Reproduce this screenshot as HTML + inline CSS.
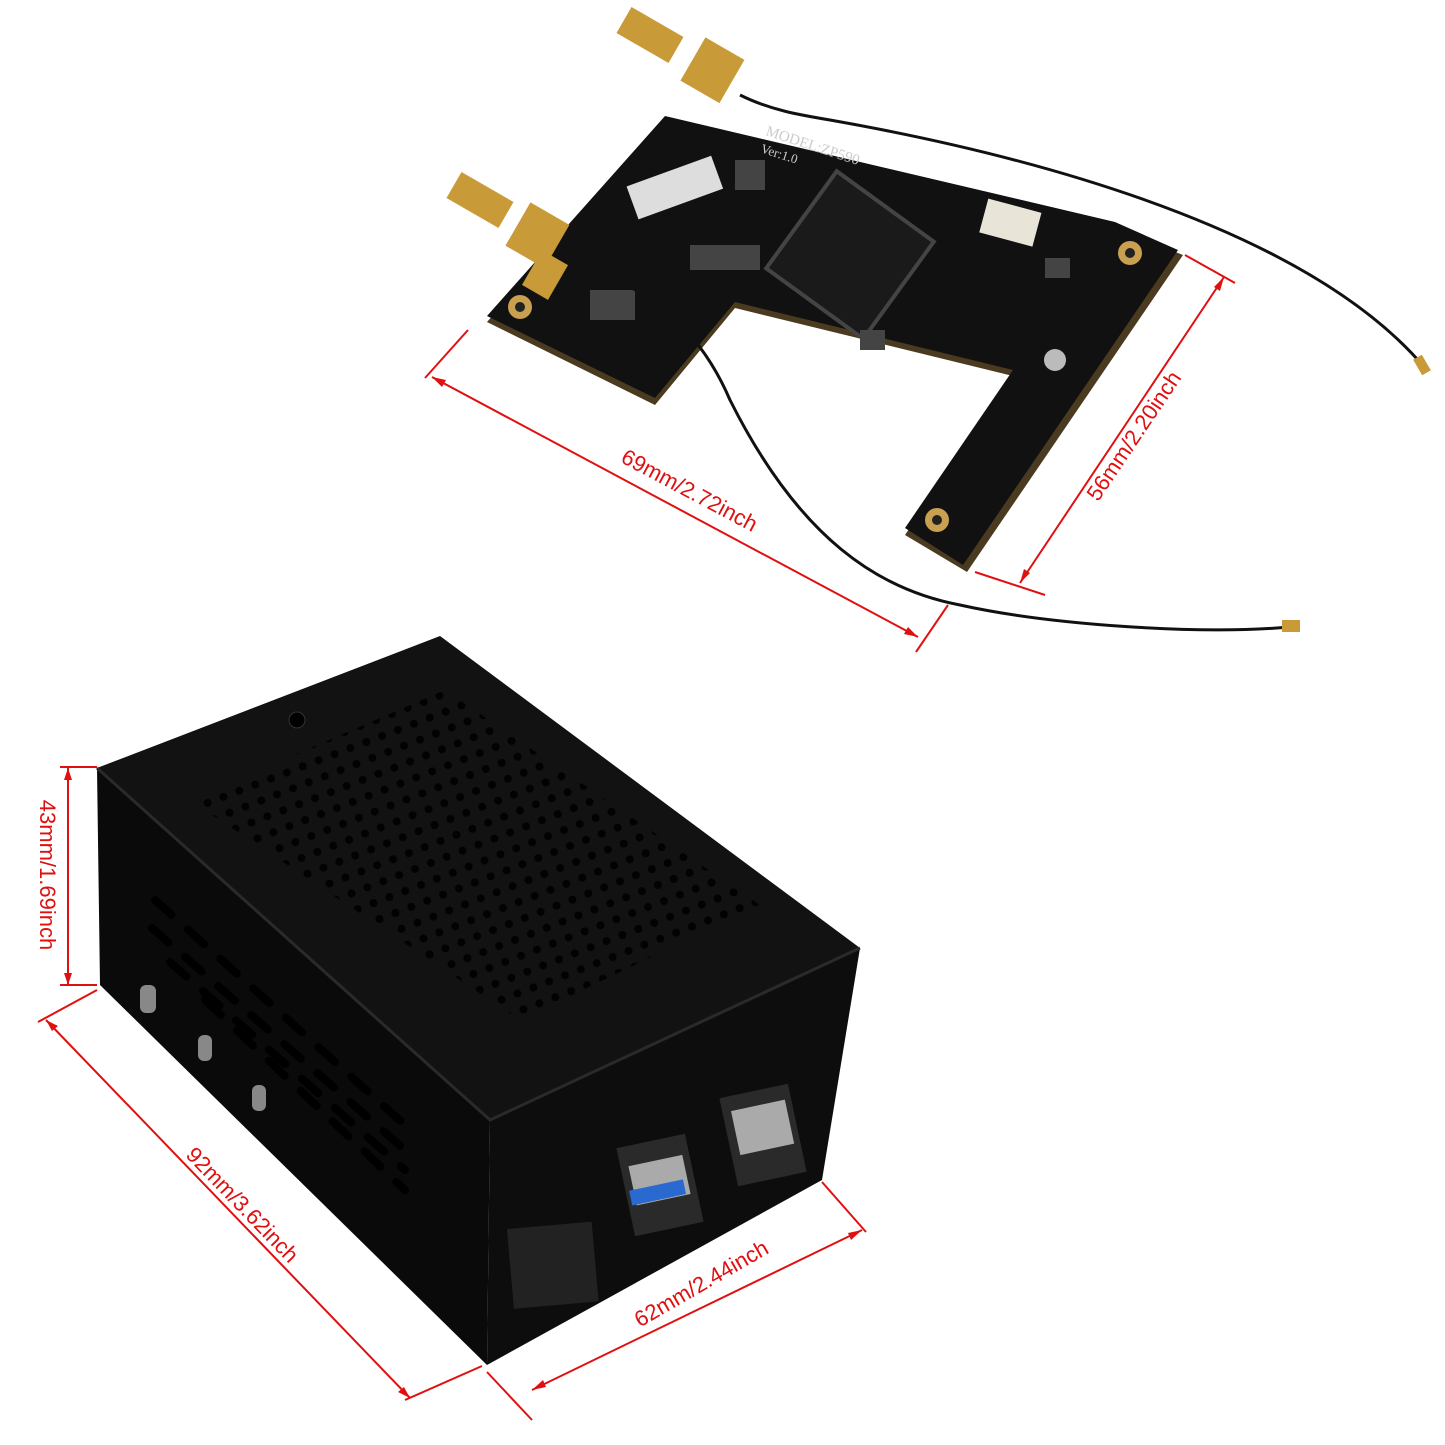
<!DOCTYPE html>
<html><head><meta charset="utf-8"><style>
html,body{margin:0;padding:0;background:#fff;}
svg{display:block;}
text{font-family:"Liberation Sans",sans-serif;font-size:22px;fill:#e01010;}
</style></head><body>
<svg width="1445" height="1445" viewBox="0 0 1445 1445" xmlns="http://www.w3.org/2000/svg">
<defs>
<pattern id="holes" width="17" height="17" patternUnits="userSpaceOnUse" patternTransform="rotate(-21)">
<circle cx="8" cy="8" r="4" fill="#000"/>
</pattern>
<clipPath id="topclip"><polygon points="190,800 445,690 760,905 520,1020"/></clipPath>
</defs>

<!-- PCB -->
<polygon points="487,322 665,122 1115,228 1183,255 967,572 905,535 1013,376 735,308 655,405" fill="#4a3a20"/>
<polygon points="487,316 665,116 1115,222 1178,250 963,565 905,528 1013,370 735,302 655,398" fill="#111"/>
<rect x="630" y="170" width="90" height="35" fill="#ddd" transform="rotate(-20 675 188)"/>
<rect x="790" y="195" width="120" height="120" fill="#1a1a1a" stroke="#444" stroke-width="4" transform="rotate(36 850 255)"/>
<rect x="983" y="205" width="55" height="35" fill="#e8e4d8" transform="rotate(15 1010 222)"/>
<g fill="#444"><rect x="735" y="160" width="30" height="30"/><rect x="690" y="245" width="70" height="25"/><rect x="590" y="290" width="45" height="30"/><rect x="860" y="330" width="25" height="20"/><rect x="1045" y="258" width="25" height="20"/></g>
<circle cx="1130" cy="253" r="12" fill="#c8a050"/><circle cx="1130" cy="253" r="5" fill="#222"/>
<circle cx="937" cy="520" r="12" fill="#c8a050"/><circle cx="937" cy="520" r="5" fill="#222"/>
<circle cx="520" cy="307" r="12" fill="#c8a050"/><circle cx="520" cy="307" r="5" fill="#222"/>
<circle cx="1055" cy="360" r="11" fill="#bbb"/>
<text x="765" y="135" style="font-family:'Liberation Serif',serif;font-size:15px;fill:#ccc" transform="rotate(18 765 135)">MODEL:ZP590</text>
<text x="760" y="152" style="font-family:'Liberation Serif',serif;font-size:13px;fill:#ccc" transform="rotate(18 760 152)">Ver:1.0</text>
<!-- SMA connectors -->
<g fill="#c89a38">
<rect x="620" y="20" width="60" height="30" transform="rotate(30 650 35)"/>
<rect x="690" y="45" width="45" height="50" transform="rotate(30 712 70)"/>
<rect x="450" y="185" width="60" height="30" transform="rotate(30 480 200)"/>
<rect x="515" y="210" width="45" height="50" transform="rotate(30 537 235)"/>
<rect x="530" y="255" width="30" height="40" transform="rotate(30 545 275)"/>
</g>
<!-- cables -->
<path d="M740,95 C770,110 800,115 830,120 C1000,150 1300,220 1425,368" fill="none" stroke="#111" stroke-width="3"/>
<path d="M600,275 C650,290 700,330 730,400 C800,540 880,590 960,605 C1050,625 1200,635 1290,627" fill="none" stroke="#111" stroke-width="3"/>
<rect x="1413" y="360" width="18" height="10" fill="#c89a38" transform="rotate(60 1422 365)"/>
<rect x="1282" y="620" width="18" height="12" fill="#c89a38"/>

<!-- Case -->
<polygon points="97,768 440,636 860,948 490,1120" fill="#121212"/>
<polygon points="97,768 490,1120 487,1365 100,985" fill="#0a0a0a"/>
<polygon points="490,1120 860,948 822,1180 487,1365" fill="#0d0d0d"/>
<polyline points="97,768 490,1120 860,948" fill="none" stroke="#2a2a2a" stroke-width="3"/>
<rect x="0" y="0" width="1445" height="1445" fill="url(#holes)" clip-path="url(#topclip)" opacity="0.9"/>
<circle cx="297" cy="720" r="8" fill="#000" stroke="#333"/>
<!-- side slots -->
<g stroke="#000" stroke-width="8" stroke-linecap="round" stroke-dasharray="22 22">
<line x1="155" y1="900" x2="405" y2="1125"/>
<line x1="152" y1="928" x2="405" y2="1150"/>
<line x1="170" y1="962" x2="405" y2="1170"/>
<line x1="205" y1="1000" x2="405" y2="1190"/>
</g>
<g fill="#888"><rect x="140" y="985" width="16" height="28" rx="6"/><rect x="198" y="1035" width="14" height="26" rx="6"/><rect x="252" y="1085" width="14" height="26" rx="6"/></g>
<!-- front ports -->
<rect x="510" y="1225" width="85" height="80" fill="#222" transform="rotate(-5 555 1262)"/>
<rect x="625" y="1140" width="70" height="90" fill="#2a2a2a" transform="rotate(-12 660 1185)"/>
<rect x="632" y="1160" width="55" height="40" fill="#aaa" transform="rotate(-12 660 1180)"/>
<rect x="630" y="1185" width="55" height="15" fill="#2a6ad0" transform="rotate(-12 657 1192)"/>
<rect x="728" y="1090" width="70" height="90" fill="#2a2a2a" transform="rotate(-12 763 1135)"/>
<rect x="735" y="1105" width="55" height="45" fill="#aaa" transform="rotate(-12 762 1127)"/>

<!-- dimension lines -->
<g stroke="#e01010" stroke-width="2" fill="none">
<line x1="432" y1="377" x2="918" y2="637"/>
<line x1="468" y1="330" x2="425" y2="378"/>
<line x1="948" y1="605" x2="916" y2="652"/>
<line x1="1224" y1="277" x2="1020" y2="583"/>
<line x1="1185" y1="255" x2="1235" y2="283"/>
<line x1="975" y1="572" x2="1045" y2="595"/>
<line x1="68" y1="768" x2="68" y2="985"/>
<line x1="60" y1="767" x2="97" y2="767"/>
<line x1="60" y1="985" x2="97" y2="985"/>
<line x1="46" y1="1020" x2="410" y2="1398"/>
<line x1="38" y1="1022" x2="97" y2="990"/>
<line x1="405" y1="1400" x2="482" y2="1366"/>
<line x1="532" y1="1390" x2="862" y2="1230"/>
<line x1="487" y1="1372" x2="532" y2="1420"/>
<line x1="822" y1="1182" x2="866" y2="1232"/>
</g>
<g fill="#e01010">
<polygon points="432,377 446,380 442,387"/>
<polygon points="918,637 904,634 908,627"/>
<polygon points="1224,277 1220,291 1214,287"/>
<polygon points="1020,583 1024,569 1030,573"/>
<polygon points="68,768 64,780 72,780"/>
<polygon points="68,985 64,973 72,973"/>
<polygon points="46,1020 58,1026 52,1031"/>
<polygon points="410,1398 398,1392 404,1387"/>
<polygon points="532,1390 543,1380 546,1387"/>
<polygon points="862,1230 851,1240 848,1233"/>
</g>
<text x="686" y="497" text-anchor="middle" transform="rotate(28 686 497)">69mm/2.72inch</text>
<text x="1140" y="440" text-anchor="middle" transform="rotate(-56 1140 440)">56mm/2.20inch</text>
<text x="40" y="875" text-anchor="middle" transform="rotate(90 40 875)">43mm/1.69inch</text>
<text x="237" y="1210" text-anchor="middle" transform="rotate(46 237 1210)">92mm/3.62inch</text>
<text x="705" y="1290" text-anchor="middle" transform="rotate(-30 705 1290)">62mm/2.44inch</text>
</svg>
</body></html>
